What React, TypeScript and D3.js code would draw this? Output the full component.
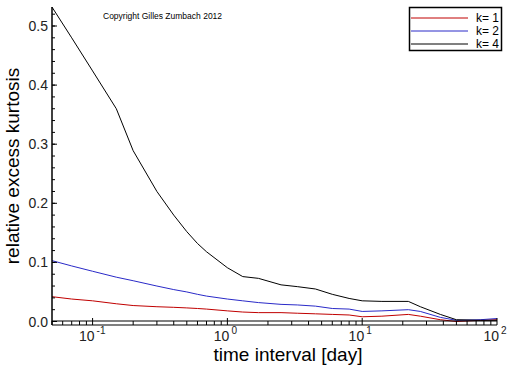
import * as d3 from "d3";

// time interval in days
const intervals = [
  0.05, 0.07, 0.1, 0.15, 0.2, 0.3, 0.4, 0.5, 0.6, 0.7, 1, 1.3, 1.7, 2.5, 3.3,
  4.5, 6, 8, 10, 14, 22, 27, 38, 50, 75, 100,
];

const k1 = [
  0.042, 0.038, 0.035, 0.03, 0.027, 0.025, 0.024, 0.023, 0.022, 0.021, 0.018,
  0.016, 0.015, 0.015, 0.014, 0.013, 0.012, 0.011, 0.008, 0.009, 0.012, 0.009,
  0.003, 0.0, 0.002, 0.003,
];
const k2 = [
  0.103, 0.094, 0.085, 0.075, 0.069, 0.06, 0.054, 0.05, 0.046, 0.043, 0.038,
  0.035, 0.032, 0.029, 0.028, 0.026, 0.022, 0.021, 0.017, 0.018, 0.02, 0.017,
  0.007, 0.002, 0.003, 0.005,
];
const k4 = [
  0.532, 0.48, 0.424, 0.36, 0.289, 0.22, 0.18, 0.152, 0.132, 0.118, 0.091,
  0.076, 0.073, 0.062, 0.059, 0.055, 0.046, 0.039, 0.035, 0.034, 0.034, 0.025,
  0.012, 0.003, 0.002, 0.002,
];

const seriesNames = ["k= 1", "k= 2", "k= 4"];
const seriesColors = ["#c00000", "#2a2ac8", "#000000"];

const yTicks = [0, 0.1, 0.2, 0.3, 0.4, 0.5];
const decades = [-1, 0, 1, 2];

const FONT = "'Liberation Sans', Arial, sans-serif";

const App = () => {
  const width = 512;
  const height = 366;
  const left = 52;
  const right = 497;
  const axisY = 321;

  const x = d3.scaleLog().domain([0.05, 100]).range([left, right]);
  const y = d3.scaleLinear().domain([0, 0.5]).range([321.5, 26]);

  const line = d3
    .line<number>()
    .x((d, i) => x(intervals[i]))
    .y((d) => y(d));

  const series = [k1, k2, k4];

  const minorY = d3.range(0, 0.53, 0.02);
  const minorX: number[] = [];
  [-2, -1, 0, 1].forEach((e) => {
    for (let m = 2; m <= 9; m++) {
      const v = m * Math.pow(10, e);
      if (v >= 0.05 && v <= 100) minorX.push(v);
    }
  });

  return (
    <svg
      width={width}
      height={height}
      style={{ position: "absolute", left: 0, top: 0, background: "white" }}
      fontFamily={FONT}
    >
      {/* curves */}
      {series.map((s, i) => (
        <path
          key={i}
          d={line(s) as string}
          fill="none"
          stroke={seriesColors[i]}
          strokeWidth={1}
        />
      ))}

      {/* y axis */}
      <line x1={left} y1={7} x2={left} y2={325} stroke="black" strokeWidth={1.5} />
      {minorY.map((v, i) => (
        <line
          key={"my" + i}
          x1={left}
          x2={left + 3}
          y1={y(v)}
          y2={y(v)}
          stroke="black"
        />
      ))}
      {yTicks.map((v) => (
        <g key={"y" + v}>
          <line x1={left} x2={left + 5} y1={y(v)} y2={y(v)} stroke="black" />
          <text
            x={48}
            y={y(v) + 5}
            textAnchor="end"
            fontSize={14}
            fill="#222"
          >
            {d3.format(".1f")(v)}
          </text>
        </g>
      ))}

      {/* x axis band */}
      <line x1={left} x2={right} y1={axisY} y2={axisY} stroke="black" strokeWidth={1.2} />
      <line x1={left} x2={right} y1={axisY + 4} y2={axisY + 4} stroke="black" strokeWidth={1.2} />
      {minorX.map((v, i) => (
        <line
          key={"mx" + i}
          x1={x(v)}
          x2={x(v)}
          y1={axisY}
          y2={axisY + 4}
          stroke="black"
        />
      ))}
      {decades.map((e) => {
        const px = x(Math.pow(10, e));
        return (
          <g key={"x" + e}>
            <line x1={px} x2={px} y1={axisY - 3} y2={axisY + 4} stroke="black" />
            <text x={px + 2} y={341} textAnchor="end" fontSize={14} fill="#222">
              10
            </text>
            <text x={px + 4} y={334} fontSize={10} fill="#222">
              {e}
            </text>
          </g>
        );
      })}

      {/* axis titles */}
      <text x={288} y={361} textAnchor="middle" fontSize={19} fill="black">
        time interval [day]
      </text>
      <text
        transform="translate(19,166) rotate(-90)"
        textAnchor="middle"
        fontSize={19}
        fill="black"
      >
        relative excess kurtosis
      </text>

      <text x={103} y={19} fontSize={8.5} fill="black">
        Copyright Gilles Zumbach 2012
      </text>

      {/* legend */}
      <rect x={409.5} y={7.5} width={92} height={43} fill="white" stroke="black" strokeWidth={1.5} />
      {seriesNames.map((name, i) => (
        <g key={name}>
          <line
            x1={411}
            x2={468}
            y1={18 + i * 13}
            y2={18 + i * 13}
            stroke={seriesColors[i]}
          />
          <text x={499} y={22 + i * 13} textAnchor="end" fontSize={12} fill="black">
            {name}
          </text>
        </g>
      ))}
    </svg>
  );
};

export default App;
